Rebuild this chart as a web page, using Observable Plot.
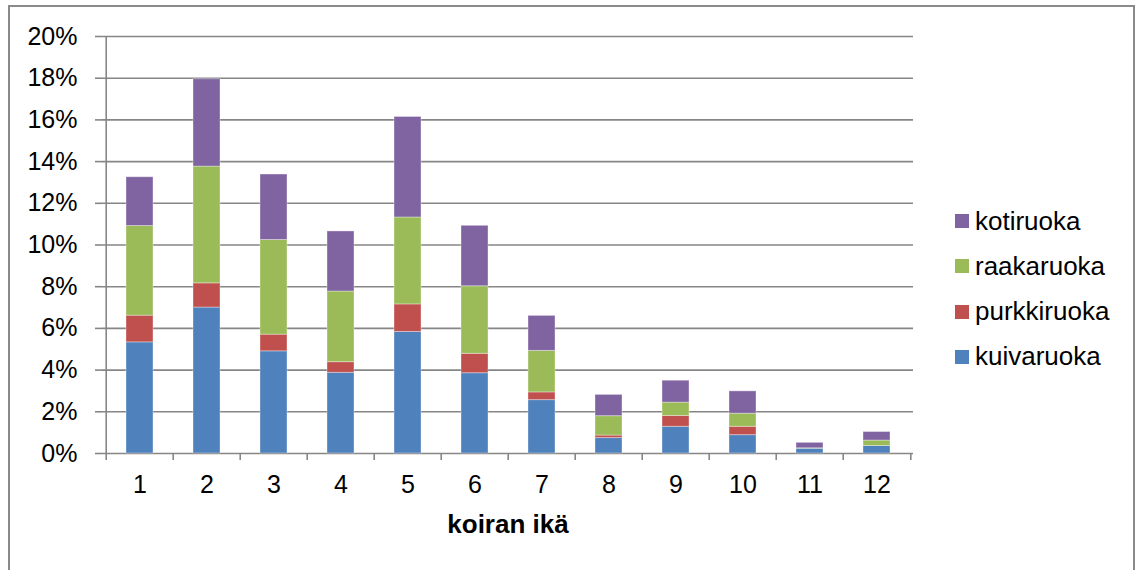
<!DOCTYPE html>
<html>
<head>
<meta charset="utf-8">
<script src="https://cdn.jsdelivr.net/npm/d3@7"></script>
<script src="https://cdn.jsdelivr.net/npm/@observablehq/plot@0.6"></script>
<style>
  html, body { margin: 0; padding: 0; background: #fff; }
  #wrap { position: relative; width: 1138px; height: 570px; overflow: hidden; font-family: Arial, "Liberation Sans", sans-serif; }
  #border { position: absolute; left: 8px; top: 5px; width: 1127px; height: 600px; border: 2px solid #8a8a8a; box-sizing: border-box; }
  #legend { position: absolute; left: 955px; top: 0; }
  .item { position: absolute; display: flex; align-items: center; white-space: nowrap; font-size: 26px; color: #000; }
  .sw { width: 14px; height: 14px; margin-right: 6px; flex: none; }
  svg { position: absolute; left: 0; top: 0; }
</style>
</head>
<body>
<div id="wrap"><div id="border"></div><div id="legend"></div></div>
<script>
const ages = [1, 2, 3, 4, 5, 6, 7, 8, 9, 10, 11, 12];
const seriesNames = ["kuivaruoka", "purkkiruoka", "raakaruoka", "kotiruoka"];
const seriesColors = ["#4F81BD", "#C0504D", "#9BBB59", "#8064A2"];
const kuivaruoka  = [5.33, 7.00, 4.90, 3.87, 5.83, 3.85, 2.56, 0.74, 1.28, 0.88, 0.23, 0.36];
const purkkiruoka = [1.28, 1.16, 0.80, 0.51, 1.32, 0.93, 0.37, 0.12, 0.52, 0.40, 0.00, 0.00];
const raakaruoka  = [4.30, 5.60, 4.54, 3.39, 4.17, 3.24, 1.99, 0.93, 0.64, 0.63, 0.02, 0.26];
const kotiruoka   = [2.34, 4.19, 3.14, 2.88, 4.82, 2.90, 1.68, 1.02, 1.05, 1.07, 0.26, 0.41];
const yTicks = [0, 2, 4, 6, 8, 10, 12, 14, 16, 18, 20];
const xTitle = "koiran ikä";

const seriesValues = [kuivaruoka, purkkiruoka, raakaruoka, kotiruoka];
const rows = [];
seriesNames.forEach((s, i) => ages.forEach((a, j) => rows.push({age: a, series: s, value: seriesValues[i][j]})));

const W = 1138, H = 570, mL = 102, mR = 225, mT = 36, mB = 117;
const step = (W - mL - mR) / ages.length;
const grey = "#868686";

const chart = Plot.plot({
  width: W, height: H,
  marginLeft: mL, marginRight: mR, marginTop: mT, marginBottom: mB,
  style: {fontFamily: 'Arial, "Liberation Sans", sans-serif', fontSize: "25px", color: "#000", background: "transparent", overflow: "visible"},
  x: {type: "band", domain: ages, paddingInner: 0.6, paddingOuter: 0.3, axis: null},
  y: {domain: [0, 20], axis: null},
  color: {domain: seriesNames, range: seriesColors},
  marks: [
    Plot.ruleY(yTicks, {stroke: grey, strokeWidth: 1.6}),
    Plot.ruleX([ages[0]], {dx: -step / 2, y1: 0, y2: 20, stroke: grey, strokeWidth: 1.6}),
    Plot.axisY({ticks: yTicks, tickSize: 7, tickPadding: 18, tickFormat: d => d + "%", stroke: grey, strokeWidth: 1.6, fill: "#000", fontSize: 25, label: null}),
    Plot.axisX(ages, {tickSize: 7, tickFormat: () => "", dx: -step / 2, stroke: grey, strokeWidth: 1.6, label: null}),
    Plot.axisX([ages[ages.length - 1]], {tickSize: 7, tickFormat: () => "", dx: step / 2, stroke: grey, strokeWidth: 1.6, label: null}),
    Plot.axisX({tickSize: 0, tickPadding: 22, fill: "#000", fontSize: 25, label: null}),
    Plot.barY(rows, {x: "age", y: "value", fill: "series", stroke: "#fff", strokeOpacity: 0.35, strokeWidth: 1}),
    Plot.text([xTitle], {frameAnchor: "bottom", dy: 71, text: d => d, fontWeight: "bold", fontSize: 26, lineAnchor: "middle", fill: "#000"})
  ]
});
document.getElementById("wrap").appendChild(chart);

const legend = document.getElementById("legend");
const legendOrder = seriesNames.slice().reverse();
legendOrder.forEach((s, i) => {
  const it = document.createElement("div");
  it.className = "item";
  it.style.top = (221 + i * 45.3 - 15) + "px";
  it.style.height = "30px";
  const sw = document.createElement("span");
  sw.className = "sw";
  sw.style.background = seriesColors[seriesNames.indexOf(s)];
  const tx = document.createElement("span");
  tx.textContent = s;
  it.appendChild(sw); it.appendChild(tx);
  legend.appendChild(it);
});
</script>
</body>
</html>
